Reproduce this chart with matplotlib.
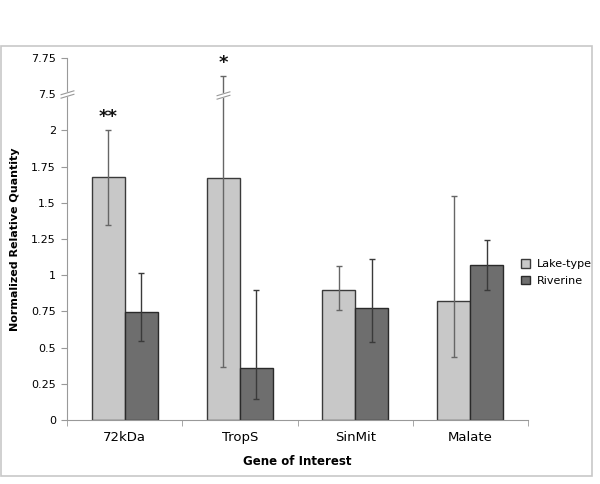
import numpy as np
import matplotlib
matplotlib.use("Agg")
import matplotlib.pyplot as plt
from matplotlib.path import Path
from matplotlib.patches import Rectangle

genes = ["72kDa", "TropS", "SinMit", "Malate"]
series = ["Lake-type", "Riverine"]
lake_vals = [1.676, 1.669, 0.897, 0.821]
lake_err_hi = [2.092, 7.624, 1.062, 1.545]
lake_err_lo = [1.345, 0.368, 0.759, 0.434]
riv_vals = [0.745, 0.360, 0.772, 1.069]
riv_err_hi = [1.014, 0.897, 1.110, 1.241]
riv_err_lo = [0.545, 0.145, 0.538, 0.897]
sig_labels = ["**", "*", "", ""]
ytick_vals = [0, 0.25, 0.5, 0.75, 1, 1.25, 1.5, 1.75, 2, 7.5, 7.75]
ytick_labels = ["0", "0.25", "0.5", "0.75", "1", "1.25", "1.5", "1.75", "2", "7.5", "7.75"]

BRK_LO, BRK_HI, GAP = 2.0, 7.5, 0.25

def fwd(v):
    v = np.asarray(v, dtype=float)
    return np.where(v <= BRK_LO, v,
           np.where(v >= BRK_HI, v - (BRK_HI - BRK_LO) + GAP,
                    BRK_LO + (v - BRK_LO) * GAP / (BRK_HI - BRK_LO)))

def inv(u):
    u = np.asarray(u, dtype=float)
    return np.where(u <= BRK_LO, u,
           np.where(u >= BRK_LO + GAP, u + (BRK_HI - BRK_LO) - GAP,
                    BRK_LO + (u - BRK_LO) * (BRK_HI - BRK_LO) / GAP))

fig = plt.figure(figsize=(6.0, 4.84), dpi=100)
fig.patches.append(Rectangle((1/600, (484-476)/484), 591/600, (476-46)/484,
                             transform=fig.transFigure, fill=False,
                             edgecolor="#c8c8c8", linewidth=1.2))
ax = fig.add_axes([67/600, (484-420)/484, (528-67)/600, (420-58)/484])
ax.set_yscale("function", functions=(fwd, inv))
ax.set_ylim(0, 7.75)

x = np.arange(len(genes))
w = 0.287
lake_c = "#c8c8c8"
riv_c = "#6e6e6e"
ax.bar(x - w/2, lake_vals, w, color=lake_c, edgecolor="#3a3a3a", linewidth=1.0, zorder=2, label=series[0])
ax.bar(x + w/2, riv_vals, w, color=riv_c, edgecolor="#2a2a2a", linewidth=1.0, zorder=2, label=series[1])

lv = np.array(lake_vals); rv = np.array(riv_vals)
ax.errorbar(x - w/2, lv, yerr=[lv - np.array(lake_err_lo), np.array(lake_err_hi) - lv],
            fmt="none", ecolor="#666666", elinewidth=1.0, capsize=2.2, capthick=1.0, zorder=3)
ax.errorbar(x + w/2, rv, yerr=[rv - np.array(riv_err_lo), np.array(riv_err_hi) - rv],
            fmt="none", ecolor="#3a3a3a", elinewidth=1.0, capsize=2.2, capthick=1.0, zorder=3)

for i, s in enumerate(sig_labels):
    if s:
        ax.annotate(s, (x[i] - w/2, lake_err_hi[i]), xytext=(0, 3), textcoords="offset points",
                    ha="center", va="bottom", fontsize=13, fontweight="bold", color="#111111")

# break markers
brk = Path([(-1, -0.55), (1, 0.05), (-1, -0.05), (1, 0.55)],
           [Path.MOVETO, Path.LINETO, Path.MOVETO, Path.LINETO])
brk_y = 7.48
ax.plot([-0.5], [brk_y], marker=Path([(-1, -0.3), (1, 0.3)]), markersize=10,
        markeredgewidth=3.5, color="white", clip_on=False, zorder=5)
ax.plot([-0.5], [brk_y], marker=brk, markersize=10, markeredgewidth=0.8,
        color="#999999", clip_on=False, zorder=6)
ax.plot([x[1] - w/2], [brk_y - 0.03], marker=Path([(-1, -0.3), (1, 0.3)]), markersize=10,
        markeredgewidth=3.5, color="white", clip_on=False, zorder=5)
ax.plot([x[1] - w/2], [brk_y - 0.03], marker=brk, markersize=10, markeredgewidth=0.8,
        color="#999999", clip_on=False, zorder=6)

ax.set_xlim(-0.5, len(genes) - 0.5)
ax.set_xticks(x)
ax.set_xticklabels(genes, fontsize=9.5)
ax.set_xticks(np.arange(len(genes) + 1) - 0.5, minor=True)
ax.tick_params(axis="x", which="major", length=0, pad=8)
ax.tick_params(axis="x", which="minor", length=4, color="#999999", direction="out")
ax.set_yticks(ytick_vals)
ax.set_yticklabels(ytick_labels, fontsize=8)
ax.yaxis.set_minor_locator(matplotlib.ticker.NullLocator())
ax.tick_params(axis="y", length=4, color="#999999", direction="out", pad=4)
for sp in ["top", "right"]:
    ax.spines[sp].set_visible(False)
for sp in ["left", "bottom"]:
    ax.spines[sp].set_color("#999999")
ax.set_ylabel("Normalized Relative Quantity", fontsize=8, fontweight="bold", labelpad=8)
ax.set_xlabel("Gene of Interest", fontsize=8.5, fontweight="bold", labelpad=8)

leg = fig.legend(loc="upper left", bbox_to_anchor=(521/600, (484-259)/484), frameon=False,
                 fontsize=8, handlelength=0.8, handleheight=0.8, handletextpad=0.6,
                 labelspacing=0.6, borderaxespad=0, borderpad=0)

fig.savefig("out.png", dpi=100)
